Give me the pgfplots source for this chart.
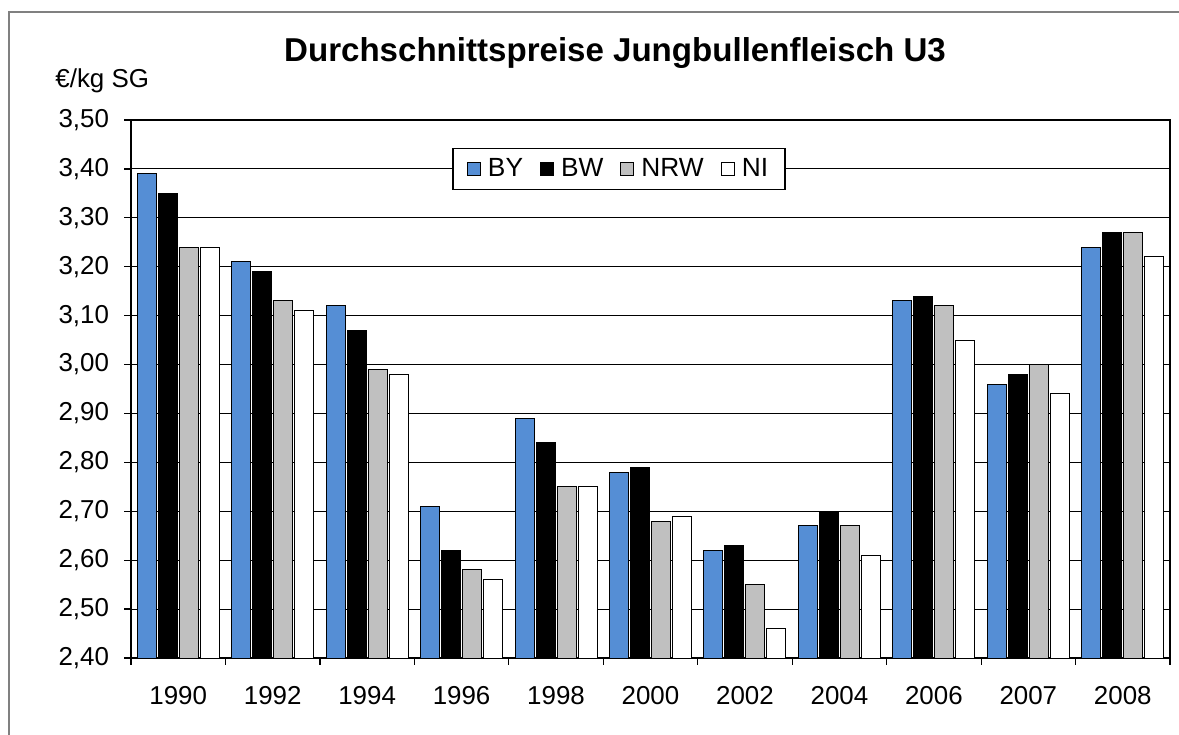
\documentclass[border=0pt]{standalone}
\usepackage{pgfplots}
\pgfplotsset{compat=1.18}
\usepackage{fontspec}
\setmainfont{Liberation Sans}
\definecolor{byblue}{RGB}{85,142,213}
\definecolor{nrwgray}{RGB}{192,192,192}
\begin{document}
\begin{tikzpicture}
\useasboundingbox (0,0) rectangle (589.5bp,367.5bp);
\fill[white] (0,0) rectangle (589.5bp,367.5bp);
\draw[gray,line width=1bp] (4.5bp,0) -- (4.5bp,361.5bp) -- (589.5bp,361.5bp);
\node[anchor=base,font=\fontsize{16.6}{19}\selectfont\bfseries,inner sep=0] at (307.5bp,336.5bp) {Durchschnittspreise Jungbullenfleisch U3};
\node[anchor=base west,font=\fontsize{13}{15}\selectfont,inner sep=0] at (27.5bp,323.5bp) {€/kg SG};
\begin{axis}[
  at={(65.5bp,38.5bp)}, anchor=south west,
  scale only axis, width=519.5bp, height=269bp,
  ybar=1bp, bar width=9.5bp,
  xmin=-0.5, xmax=10.5, ymin=2.4, ymax=3.5,
  axis line style={black, line width=0.6bp},
  xtick={0,...,10},
  xticklabels={1990,1992,1994,1996,1998,2000,2002,2004,2006,2007,2008},
  major x tick style={draw=none},
  minor xtick={-0.5,0.5,...,10.5},
  minor x tick style={black, line width=0.6bp},
  minor tick length=3.5bp,
  ytick={2.4,2.5,...,3.51},
  y tick style={black, line width=0.6bp},
  major tick length=3.5bp,
  tick align=outside,
  xtick pos=bottom, ytick pos=left,
  ymajorgrids, grid style={black, line width=0.5bp},
  /pgf/number format/fixed, /pgf/number format/fixed zerofill,
  /pgf/number format/precision=2, /pgf/number format/use comma,
  /pgf/number format/assume math mode=true,
  ticklabel style={font=\fontsize{13}{15}\selectfont},
  xticklabel style={yshift=-7bp},
  yticklabel style={xshift=-4bp},
  legend columns=4,
  legend style={at={(0.4697,0.909)}, anchor=center, draw=black, line width=0.6bp,
    font=\fontsize{13.2}{15}\selectfont, inner xsep=7bp, inner ysep=3bp,
    nodes={inner xsep=1.5bp},
    /tikz/every odd column/.append style={column sep=2bp},
    /tikz/every even column/.append style={column sep=7bp}},
  legend image code/.code={\draw[#1,draw=black,line width=0.5bp] (0bp,-3.2bp) rectangle (6.5bp,3.2bp);},
  every axis plot/.append style={draw=black, line width=0.5bp},
]
\addplot[fill=byblue] coordinates {(0,3.39) (1,3.21) (2,3.12) (3,2.71) (4,2.89) (5,2.78) (6,2.62) (7,2.67) (8,3.13) (9,2.96) (10,3.24)};
\addplot[fill=black] coordinates {(0,3.35) (1,3.19) (2,3.07) (3,2.62) (4,2.84) (5,2.79) (6,2.63) (7,2.70) (8,3.14) (9,2.98) (10,3.27)};
\addplot[fill=nrwgray] coordinates {(0,3.24) (1,3.13) (2,2.99) (3,2.58) (4,2.75) (5,2.68) (6,2.55) (7,2.67) (8,3.12) (9,3.00) (10,3.27)};
\addplot[fill=white] coordinates {(0,3.24) (1,3.11) (2,2.98) (3,2.56) (4,2.75) (5,2.69) (6,2.46) (7,2.61) (8,3.05) (9,2.94) (10,3.22)};
\legend{BY,BW,NRW,NI}
\end{axis}
\end{tikzpicture}
\end{document}
